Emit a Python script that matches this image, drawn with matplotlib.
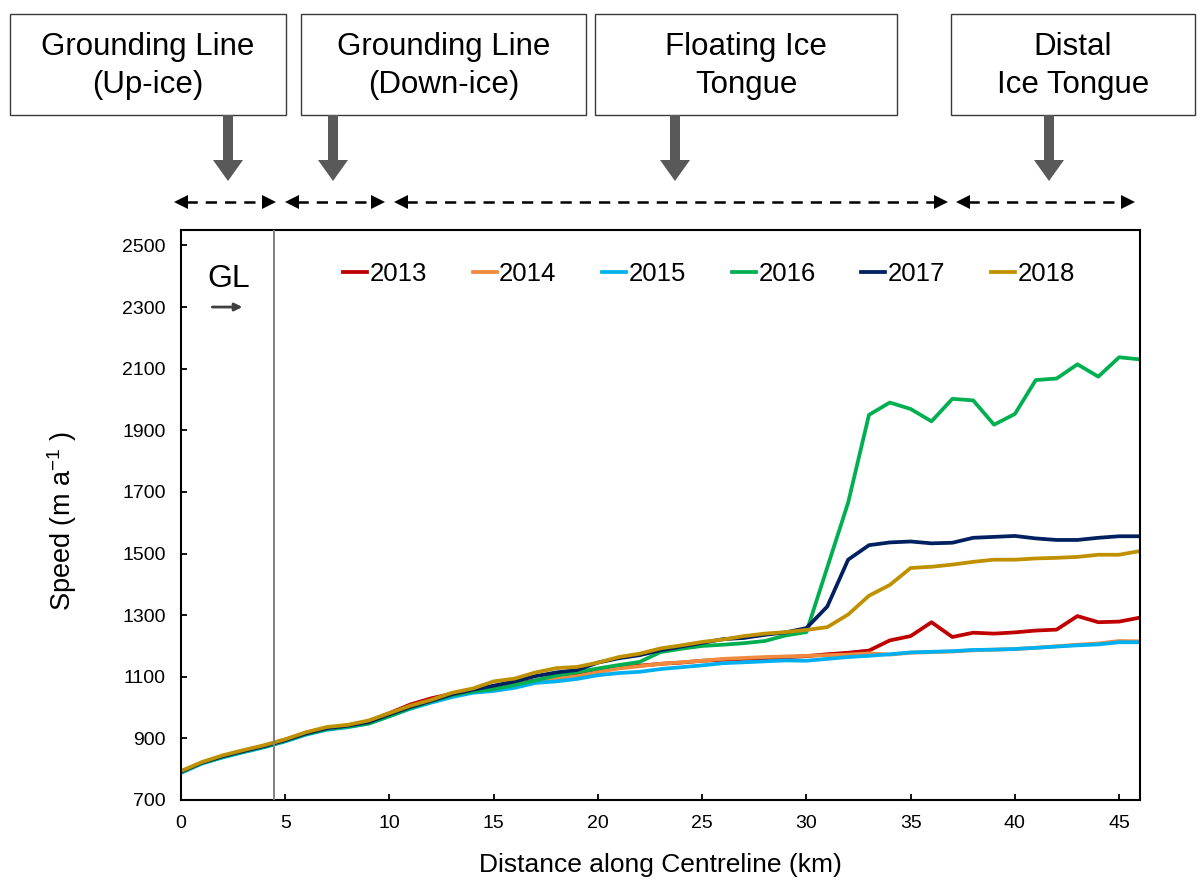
import matplotlib
matplotlib.use("Agg")
import matplotlib.pyplot as plt
from matplotlib.patches import Rectangle, Polygon
from matplotlib.lines import Line2D

plt.rcParams['font.family'] = ['Liberation Sans', 'DejaVu Sans']
plt.rcParams['mathtext.fontset'] = 'custom'
plt.rcParams['mathtext.rm'] = 'Liberation Sans'
plt.rcParams['mathtext.it'] = 'Liberation Sans'

# ---- data: ice speed along the centreline (m/a) ----
distance_km = list(range(47))

speed_2013 = [792, 820, 842, 860, 876, 896, 918, 934, 942, 956, 982,
              1010, 1030, 1045, 1058, 1066, 1076, 1088, 1098, 1110, 1124,
              1130, 1136, 1142, 1146, 1152, 1155, 1158, 1160, 1163, 1167,
              1173, 1178, 1185, 1218, 1232, 1277, 1229, 1243, 1240, 1244,
              1250, 1253, 1297, 1277, 1279, 1292]
speed_2014 = [790, 820, 840, 858, 874, 893, 915, 932, 940, 952, 976,
              1000, 1020, 1038, 1052, 1062, 1072, 1085, 1094, 1102, 1115,
              1127, 1134, 1142, 1147, 1152, 1158, 1161, 1164, 1166, 1168,
              1170, 1172, 1176, 1172, 1178, 1180, 1182, 1186, 1188, 1190,
              1194, 1199, 1204, 1208, 1216, 1215]
speed_2015 = [788, 818, 838, 855, 871, 890, 912, 928, 936, 948, 972,
              996, 1016, 1034, 1048, 1054, 1064, 1080, 1085, 1093, 1105,
              1112, 1116, 1125, 1131, 1137, 1144, 1147, 1150, 1153, 1152,
              1158, 1164, 1168, 1173, 1179, 1181, 1183, 1187, 1188, 1190,
              1194, 1198, 1202, 1205, 1212, 1212]
speed_2016 = [790, 820, 840, 857, 873, 892, 914, 930, 938, 948, 972,
              998, 1020, 1040, 1052, 1060, 1073, 1088, 1104, 1115, 1127,
              1138, 1148, 1180, 1191, 1200, 1204, 1209, 1216, 1234, 1245,
              1455, 1665, 1950, 1990, 1969, 1929, 2002, 1997, 1918, 1953,
              2063, 2068, 2114, 2074, 2137, 2130]
speed_2017 = [792, 821, 842, 859, 875, 894, 916, 933, 941, 953, 978,
              1002, 1022, 1043, 1058, 1071, 1085, 1102, 1114, 1122, 1146,
              1160, 1170, 1186, 1198, 1210, 1222, 1226, 1236, 1244, 1258,
              1328, 1480, 1527, 1536, 1539, 1533, 1535, 1551, 1554, 1557,
              1549, 1544, 1544, 1551, 1556, 1556]
speed_2018 = [794, 823, 845, 862, 878, 897, 920, 937, 944, 958, 982,
              1006, 1025, 1048, 1062, 1085, 1094, 1114, 1128, 1132, 1146,
              1164, 1175, 1192, 1202, 1213, 1221, 1232, 1240, 1245, 1252,
              1261, 1302, 1363, 1398, 1453, 1457, 1464, 1473, 1480, 1480,
              1484, 1486, 1489, 1496, 1496, 1508]

years = ['2013', '2014', '2015', '2016', '2017', '2018']
series = [speed_2013, speed_2014, speed_2015, speed_2016, speed_2017, speed_2018]
colors = ['#C00000', '#F08A3C', '#00B0F0', '#00B050', '#002060', '#BF9000']

grounding_line_km = 4.45

zone_titles = [('Grounding Line', '(Up-ice)'),
               ('Grounding Line', '(Down-ice)'),
               ('Floating Ice', 'Tongue'),
               ('Distal', 'Ice Tongue')]

# ---- figure ----
W, H, DPI = 1204, 881, 100
fig = plt.figure(figsize=(W / DPI, H / DPI), dpi=DPI)
ax = fig.add_axes([181 / W, (H - 800) / H, 959 / W, 570 / H])

handles = []
for yr, vals, col in zip(years, series, colors):
    ln, = ax.plot(distance_km, vals, color=col, lw=2.7, solid_joinstyle='round',
                  label=yr, zorder=2)
    handles.append(ln)

ax.axvline(grounding_line_km, color='#7f7f7f', lw=1.4, zorder=3)

ax.set_xlim(0, 46)
ax.set_ylim(700, 2550)
ax.set_xticks(range(0, 46, 5))
ax.set_yticks(range(700, 2501, 200))
ax.tick_params(direction='in', length=4.5, width=1.3, labelsize=14, pad=11,
               colors='black')
for sp in ax.spines.values():
    sp.set_linewidth(1.5)
    sp.set_color('black')

ax.set_xlabel('Distance along Centreline (km)', fontsize=19)
ax.xaxis.set_label_coords(0.5, -0.093)
ax.xaxis.label.set_va('top')
ax.set_ylabel(r'Speed (m a$^{-1}$ )', fontsize=19.5)
ax.yaxis.set_label_coords(-0.106, 0.49)

leg = ax.legend(handles=handles, labels=years, ncol=6, loc='center left',
                bbox_to_anchor=(0.169, 0.923), frameon=False,
                prop={'size': 18.5},
                handlelength=0.93, handletextpad=0.1, columnspacing=1.78,
                borderpad=0, borderaxespad=0)

# grounding line marker
ax.text(2.29, 2366, 'GL', fontsize=23, ha='center', va='baseline')
ax.annotate('', xy=(2.95, 2300), xytext=(1.5, 2300),
            arrowprops=dict(arrowstyle='-|>,head_length=0.45,head_width=0.22',
                            color='#404040', lw=2, shrinkA=0, shrinkB=0))

# ---- zone annotations above the axes (figure pixel layout) ----
tr = fig.dpi_scale_trans


def P(x, y):
    return (x / DPI, (H - y) / DPI)


box_spans = [(10, 286), (301, 586), (595, 897), (951, 1195)]
box_top, box_bot = 14, 115
down_arrow_x = [228, 333, 675, 1049]

for (x0, x1), (l1, l2) in zip(box_spans, zone_titles):
    fig.add_artist(Rectangle(P(x0, box_bot), (x1 - x0) / DPI, (box_bot - box_top) / DPI,
                             transform=tr, facecolor='white', edgecolor='#3a3a3a', lw=1.0))
    cx = (x0 + x1) / 2
    fig.text(*P(cx, 55), l1, transform=tr, ha='center', va='baseline', fontsize=22.5)
    fig.text(*P(cx, 93), l2, transform=tr, ha='center', va='baseline', fontsize=22.5)

grey = '#595959'
for xa in down_arrow_x:
    fig.add_artist(Rectangle(P(xa - 5, 161), 10 / DPI, 46 / DPI, transform=tr,
                             facecolor=grey, edgecolor='none'))
    fig.add_artist(Polygon([P(xa - 15, 160), P(xa + 15, 160), P(xa, 181)],
                           closed=True, transform=tr, facecolor=grey, edgecolor='none'))

# dashed double-headed extent arrows
extent_px = [(174, 276), (285, 385), (394, 948), (956, 1135)]
ya = 202
for xl, xr in extent_px:
    x_a, y_a = P(xl + 12, ya)
    x_b, y_b = P(xr - 12, ya)
    fig.add_artist(Line2D([x_a, x_b], [y_a, y_b], transform=tr, color='black',
                          lw=1.8, dashes=(4.5, 3.2)))
    fig.add_artist(Polygon([P(xl, ya), P(xl + 14, ya - 7), P(xl + 14, ya + 7)],
                           closed=True, transform=tr, facecolor='black', edgecolor='none'))
    fig.add_artist(Polygon([P(xr, ya), P(xr - 14, ya - 7), P(xr - 14, ya + 7)],
                           closed=True, transform=tr, facecolor='black', edgecolor='none'))

fig.savefig('out.png', dpi=DPI, facecolor='white')
